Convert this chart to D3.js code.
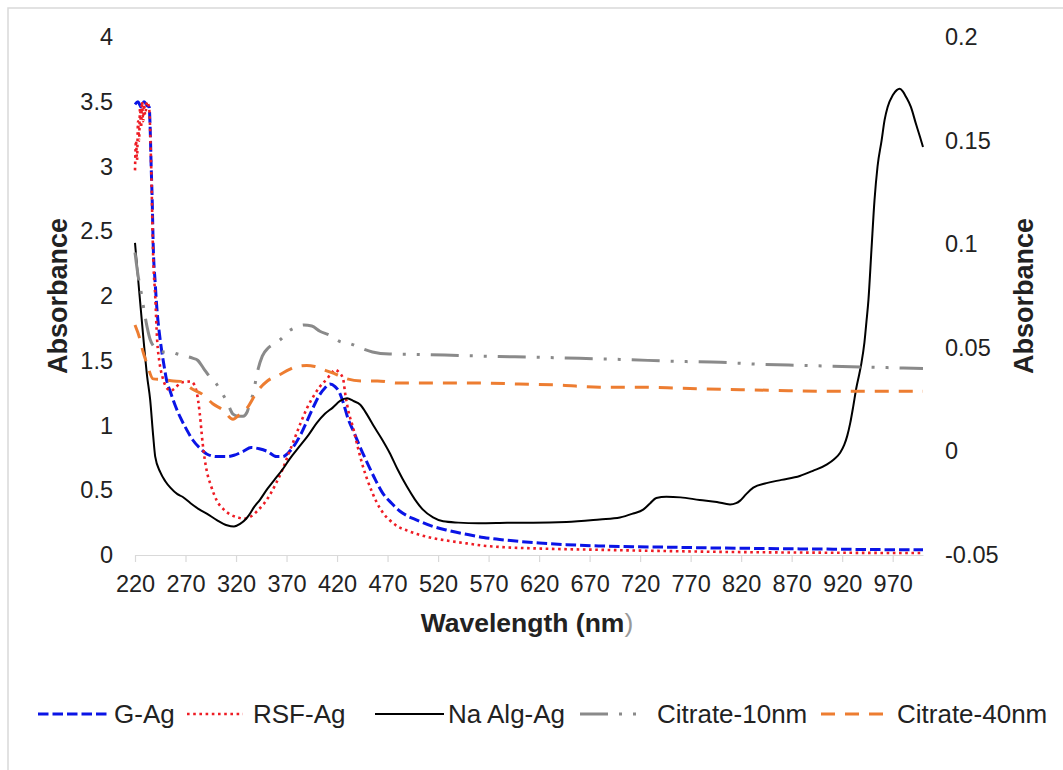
<!DOCTYPE html>
<html>
<head>
<meta charset="utf-8">
<script src="https://cdn.jsdelivr.net/npm/d3@7"></script>
<style>
  html, body { margin: 0; padding: 0; background: #fff; }
  svg { display: block; font-family: "Liberation Sans", Arial, sans-serif; }
</style>
</head>
<body>
<svg id="chart" width="1063" height="770"></svg>
<script>
// ---------- data (wavelength nm, absorbance) ----------
const xTicks = [220, 270, 320, 370, 420, 470, 520, 570, 620, 670, 720, 770, 820, 870, 920, 970];
const leftTicks = [0, 0.5, 1, 1.5, 2, 2.5, 3, 3.5, 4];
const rightTicks = [-0.05, 0, 0.05, 0.1, 0.15, 0.2];
const seriesNames = ["G-Ag", "RSF-Ag", "Na Alg-Ag", "Citrate-10nm", "Citrate-40nm"];

const gAg = [
  [220,3.48],[223,3.5],[226,3.46],[229,3.5],[232,3.47],[234,3.46],[235,3.3],[236,3.0],[237,2.75],[238,2.4],
  [240,2.1],[242,1.87],[244,1.72],[246,1.6],[249,1.45],[251,1.36],[255,1.26],[260,1.15],[265,1.06],[271,0.97],
  [277,0.89],[285,0.82],[291,0.78],[301,0.76],[311,0.76],[318,0.77],[327,0.80],[335,0.83],[343,0.82],[351,0.80],
  [360,0.76],[366,0.76],[373,0.80],[378,0.85],[384,0.93],[390,1.03],[397,1.15],[403,1.24],[408,1.29],[413,1.32],
  [418,1.30],[422,1.26],[426,1.18],[431,1.05],[436,0.96],[443,0.83],[450,0.71],[458,0.58],[465,0.48],[474,0.40],
  [482,0.34],[490,0.30],[499,0.27],[515,0.22],[530,0.19],[548,0.16],[565,0.135],[581,0.12],[600,0.105],[620,0.093],
  [647,0.08],[680,0.07],[713,0.064],[750,0.06],[779,0.056],[820,0.052],[845,0.05],[880,0.047],[911,0.045],[950,0.042],[1000,0.04]
];

const rsfAg = [
  [220,2.97],[221,3.2],[222,3.05],[223,3.35],[224,3.2],[225,3.45],[226,3.3],[227,3.5],[228,3.35],[229,3.48],
  [230,3.4],[232,3.5],[234,3.45],[236,3.0],[238,2.3],[240,2.0],[242,1.65],[244,1.5],[247,1.38],[250,1.31],
  [255,1.27],[260,1.29],[265,1.33],[275,1.34],[279,1.31],[281,1.26],[284,1.1],[287,0.86],[291,0.65],[295,0.54],
  [301,0.42],[308,0.35],[315,0.31],[322,0.29],[327,0.28],[333,0.29],[337,0.31],[341,0.34],[347,0.39],[354,0.47],
  [360,0.56],[366,0.66],[372,0.78],[378,0.90],[384,1.02],[390,1.13],[397,1.23],[403,1.3],[410,1.36],[415,1.41],
  [418,1.43],[422,1.41],[426,1.36],[428,1.25],[431,1.12],[436,0.98],[440,0.85],[445,0.70],[450,0.58],[455,0.48],
  [459,0.41],[466,0.32],[472,0.27],[480,0.22],[489,0.19],[500,0.16],[515,0.13],[530,0.11],[548,0.09],[565,0.072],
  [581,0.062],[620,0.05],[680,0.04],[750,0.03],[812,0.023],[900,0.018],[1000,0.015]
];

const naAlgAg = [
  [220,2.41],[224,2.05],[228,1.7],[232,1.38],[235,1.2],[238,0.92],[240,0.76],[245,0.64],[250,0.57],[255,0.52],
  [262,0.47],[267,0.45],[275,0.40],[284,0.35],[291,0.32],[301,0.27],[311,0.23],[318,0.22],[324,0.24],[330,0.28],
  [333,0.31],[337,0.36],[344,0.43],[351,0.51],[358,0.58],[366,0.66],[373,0.74],[383,0.84],[392,0.93],[400,1.02],
  [408,1.09],[416,1.14],[423,1.19],[430,1.21],[436,1.19],[443,1.16],[450,1.08],[456,1.0],[464,0.9],[472,0.79],
  [480,0.66],[489,0.53],[497,0.43],[505,0.35],[515,0.29],[525,0.26],[540,0.25],[560,0.245],[581,0.247],[600,0.25],
  [614,0.25],[647,0.255],[680,0.275],[700,0.29],[713,0.32],[723,0.35],[730,0.40],[736,0.44],[746,0.45],[760,0.445],
  [779,0.425],[796,0.41],[809,0.39],[815,0.40],[819,0.42],[825,0.47],[832,0.52],[845,0.555],[860,0.58],[878,0.61],
  [891,0.65],[905,0.70],[912,0.74],[918,0.79],[922,0.85],[925,0.92],[928,1.02],[931,1.15],[934,1.29],[937,1.4],
  [939,1.48],[942,1.64],[944,1.8],[946,1.97],[949,2.36],[952,2.74],[955,3.0],[959,3.2],[962,3.36],[965,3.46],
  [970,3.55],[974,3.59],[977,3.6],[980,3.58],[983,3.54],[988,3.46],[993,3.33],[997,3.23],[1000,3.15]
];

const citrate10 = [
  [220,0.096],[223,0.085],[226,0.077],[229,0.068],[232,0.060],[235,0.054],[238,0.051],[242,0.049],[248,0.048],[255,0.048],
  [262,0.047],[270,0.046],[277,0.045],[282,0.044],[288,0.040],[294,0.036],[300,0.033],[305,0.029],[311,0.024],[317,0.018],
  [322,0.017],[327,0.017],[331,0.019],[334,0.024],[337,0.028],[341,0.038],[346,0.046],[352,0.050],[358,0.052],[364,0.054],
  [372,0.058],[380,0.060],[387,0.061],[395,0.0605],[403,0.058],[413,0.056],[423,0.053],[433,0.052],[443,0.050],[455,0.048],
  [472,0.047],[500,0.0468],[540,0.0463],[580,0.0458],[620,0.0454],[660,0.0449],[700,0.0444],[760,0.0434],[800,0.043],
  [840,0.042],[880,0.0415],[920,0.041],[960,0.0405],[1000,0.04]
];

const citrate40 = [
  [220,0.061],[225,0.054],[228,0.048],[232,0.042],[238,0.035],[248,0.0347],[258,0.034],[265,0.0338],[277,0.030],[287,0.0275],
  [297,0.023],[307,0.020],[317,0.0155],[324,0.018],[331,0.021],[341,0.029],[351,0.034],[363,0.037],[373,0.0396],[380,0.041],
  [390,0.0415],[398,0.041],[409,0.039],[420,0.037],[430,0.035],[445,0.034],[460,0.034],[480,0.033],[500,0.033],[530,0.033],
  [560,0.033],[600,0.0325],[640,0.032],[680,0.031],[720,0.031],[760,0.0305],[800,0.030],[850,0.0295],[900,0.029],[950,0.029],[1000,0.029]
];

// ---------- layout ----------
const svg = d3.select("#chart");
const plot = { left: 135, right: 923, top: 37, bottom: 555 };
const tickFont = 23.5;

svg.append("rect").attr("x", 8).attr("y", 8).attr("width", 1100).attr("height", 800)
  .attr("fill", "none").attr("stroke", "#d9d9d9").attr("stroke-width", 1.5);

const x = d3.scaleLinear().domain([220, 1000]).range([plot.left, plot.right]);
const yL = d3.scaleLinear().domain([0, 4]).range([plot.bottom, plot.top]);
const yR = d3.scaleLinear().domain([-0.05, 0.2]).range([plot.bottom, plot.top]);

// x axis
const xAxis = svg.append("g").attr("transform", `translate(0,${plot.bottom})`)
  .call(d3.axisBottom(x).tickValues(xTicks).tickSize(7).tickSizeOuter(0).tickPadding(13).tickFormat(d3.format("d")));
xAxis.select(".domain").attr("stroke", "#d9d9d9").attr("stroke-width", 1.2);
xAxis.selectAll(".tick line").attr("stroke", "#d9d9d9").attr("stroke-width", 1.2);
xAxis.selectAll(".tick text").attr("font-size", tickFont).attr("fill", "#222").attr("font-family", "Liberation Sans, Arial, sans-serif");

// left axis
const lAxis = svg.append("g").attr("transform", `translate(${plot.left},0)`)
  .call(d3.axisLeft(yL).tickValues(leftTicks).tickSize(0).tickPadding(22).tickFormat(d => String(d)));
lAxis.select(".domain").remove();
lAxis.selectAll(".tick text").attr("font-size", tickFont).attr("fill", "#222").attr("font-family", "Liberation Sans, Arial, sans-serif");

// right axis
const rAxis = svg.append("g").attr("transform", `translate(${plot.right},0)`)
  .call(d3.axisRight(yR).tickValues(rightTicks).tickSize(0).tickPadding(22).tickFormat(d => String(+d.toFixed(2))));
rAxis.select(".domain").remove();
rAxis.selectAll(".tick text").attr("font-size", tickFont).attr("fill", "#222").attr("font-family", "Liberation Sans, Arial, sans-serif");

// axis titles
const xt = svg.append("text").attr("x", 527).attr("y", 632)
  .attr("text-anchor", "middle").attr("font-size", 26.5).attr("font-weight", "bold").attr("fill", "#222");
xt.append("tspan").text("Wavelength (nm");
xt.append("tspan").attr("font-weight", "normal").attr("fill", "#999").text(")");

svg.append("text").attr("transform", `translate(67,${(plot.top + plot.bottom) / 2}) rotate(-90)`)
  .attr("text-anchor", "middle").attr("font-size", 27).attr("font-weight", "bold").attr("fill", "#222").text("Absorbance");
svg.append("text").attr("transform", `translate(1033,${(plot.top + plot.bottom) / 2}) rotate(-90)`)
  .attr("text-anchor", "middle").attr("font-size", 27).attr("font-weight", "bold").attr("fill", "#222").text("Absorbance");

// ---------- series ----------
const styles = [
  { data: gAg, axis: yL, color: "#0a14e6", width: 3, dash: "10.5 4" },
  { data: rsfAg, axis: yL, color: "#ee1c24", width: 2.6, dash: "2.6 3.6" },
  { data: naAlgAg, axis: yL, color: "#000000", width: 2, dash: null },
  { data: citrate10, axis: yR, color: "#8a8a8a", width: 3, dash: "28 11 3 11 3 11" },
  { data: citrate40, axis: yR, color: "#ed7d31", width: 3, dash: "14 10" }
];

styles.forEach(s => {
  const line = d3.line().x(d => x(d[0])).y(d => s.axis(d[1])).curve(d3.curveMonotoneX);
  svg.append("path").datum(s.data).attr("d", line)
    .attr("fill", "none").attr("stroke", s.color).attr("stroke-width", s.width)
    .attr("stroke-dasharray", s.dash).attr("stroke-linejoin", "round");
});

// ---------- legend ----------
const legendY = 714;
const legendItems = [
  { x0: 38, len: 70, tx: 114 },
  { x0: 187, len: 56, tx: 253 },
  { x0: 375, len: 69, tx: 448 },
  { x0: 580, len: 62, tx: 657 },
  { x0: 821, len: 68, tx: 897 }
];
legendItems.forEach((it, i) => {
  const s = styles[i];
  svg.append("line").attr("x1", it.x0).attr("x2", it.x0 + it.len).attr("y1", legendY).attr("y2", legendY)
    .attr("stroke", s.color).attr("stroke-width", s.width).attr("stroke-dasharray", s.dash);
  svg.append("text").attr("x", it.tx).attr("y", legendY + 9).attr("font-size", 26).attr("fill", "#222")
    .text(seriesNames[i]);
});
</script>
</body>
</html>
